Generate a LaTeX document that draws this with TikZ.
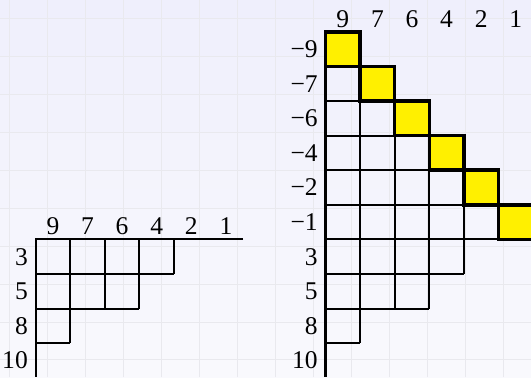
\documentclass[tikz,border=0pt]{standalone}
\usepackage{fontspec}
\setmainfont{Liberation Serif}
\usepackage{tikz}
\usetikzlibrary{positioning}
\usepackage{xcolor}
\definecolor{cellyellow}{RGB}{255,240,0}
\definecolor{bgtop}{RGB}{239,239,252}
\definecolor{bgbottom}{RGB}{249,249,253}
\definecolor{bggrid}{RGB}{233,233,238}

\begin{document}
\begin{tikzpicture}[
    cellline/.style={draw=black, line width=1.7pt},
    hookcell/.style={draw=black, fill=cellyellow, line width=2.9pt},
    axisline/.style={draw=black, line width=1.7pt},
    collabel/.style={font=\fontsize{21}{25}\selectfont, inner sep=0pt},
    rowlabel/.style={font=\fontsize{21}{25}\selectfont, anchor=east, inner sep=0pt}
]

% Background
\useasboundingbox (-1.03,-3.98) rectangle (14.32,6.92);
\shade[top color=bgtop, bottom color=bgbottom] (-1.03,-3.98) rectangle (14.32,6.92);
\foreach \i in {0,...,13} \draw[bggrid, line width=0.8pt] ({-0.743+1.098*\i},-3.98) -- ++(0,10.9);
\foreach \j in {0,...,9} \draw[bggrid, line width=0.8pt] (-1.03,{6.396-1.098*\j}) -- ++(15.35,0);

% Left diagram: shape 4,3,1
\foreach \n [count=\c] in {9,7,6,4,2,1}
    \node[collabel] (lcol\c) at (\c-0.5,0.38) {\n};
\foreach \n [count=\r] in {3,5,8,10}
    \node[rowlabel] (lrow\r) at (-0.22,0.5-\r) {\n};
\draw[cellline] (0,-1) grid (4,0);
\draw[cellline] (0,-2) grid (3,-1);
\draw[cellline] (0,-3) grid (1,-2);
\draw[axisline] (6,0) -- (0,0) -- (0,-3.98);

% Right diagram: staircase with yellow diagonal
\begin{scope}[xshift=8.38cm]
\foreach \n [count=\c] in {9,7,6,4,2,1}
    \node[collabel] (rcol\c) at (\c-0.5,6.38) {\n};
\foreach \n [count=\r] in {−9,−7,−6,−4,−2,−1,3,5,8,10}
    \node[rowlabel] (rrow\r) at (-0.22,6.5-\r) {\n};
\foreach \r in {2,...,6}
    \draw[cellline] (0,6-\r) grid (\r-1,7-\r);
\draw[cellline] (0,-1) grid (4,0);
\draw[cellline] (0,-2) grid (3,-1);
\draw[cellline] (0,-3) grid (1,-2);
\draw[axisline] (0,6) -- (0,-3.98);
\foreach \r in {1,...,6}
    \draw[hookcell] (\r-1,6-\r) rectangle (\r,7-\r);
\end{scope}

\end{tikzpicture}
\end{document}
